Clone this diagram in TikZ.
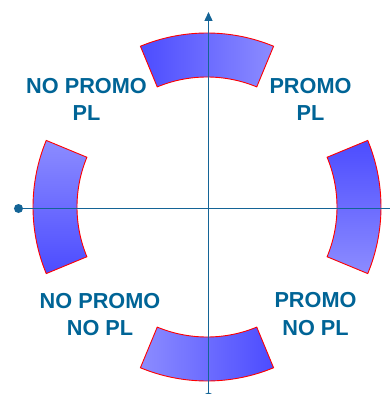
\documentclass[tikz,border=0pt]{standalone}
\usepackage{fontspec}
\setmainfont{Liberation Sans}
\usetikzlibrary{arrows.meta}
\definecolor{txtblue}{RGB}{0,100,150}
\definecolor{axisblue}{RGB}{20,100,150}
\definecolor{darkseg}{RGB}{76,76,255}
\definecolor{lightseg}{RGB}{140,140,255}
\tikzset{
  segment/.style={draw=red, line width=0.9pt},
  axisline/.style={draw=axisblue, line width=1.4pt},
  label/.style={text=txtblue, align=center, inner sep=0pt,
    font=\fontsize{21.7}{27.4}\selectfont\bfseries},
  enddot/.style={circle, fill=axisblue, inner sep=0pt, minimum size=9pt}
}
\begin{document}
\begin{tikzpicture}[x=1pt,y=1pt]
\useasboundingbox (-207,-187) rectangle (182,207);
% sectors
\shade[segment, left color=darkseg, right color=lightseg]
  (67.5:174pt) arc[start angle=67.5, end angle=112.5, radius=174pt]
  -- (112.5:130pt) arc[start angle=112.5, end angle=67.5, radius=130pt] -- cycle;
\shade[segment, top color=lightseg, bottom color=darkseg]
  (157.5:174pt) arc[start angle=157.5, end angle=202.5, radius=174pt]
  -- (202.5:130pt) arc[start angle=202.5, end angle=157.5, radius=130pt] -- cycle;
\shade[segment, left color=lightseg, right color=darkseg]
  (247.5:174pt) arc[start angle=247.5, end angle=292.5, radius=174pt]
  -- (292.5:130pt) arc[start angle=292.5, end angle=247.5, radius=130pt] -- cycle;
\shade[segment, top color=darkseg, bottom color=lightseg]
  (-22.5:174pt) arc[start angle=-22.5, end angle=22.5, radius=174pt]
  -- (22.5:130pt) arc[start angle=22.5, end angle=-22.5, radius=130pt] -- cycle;
% axes
\node[enddot] (ldot) at (-188.5,-1.5) {};
\node[enddot] (bdot) at (1.5,-190) {};
\coordinate (top) at (1.5,195);
\coordinate (right) at (190,-1.5);
\draw[axisline] (ldot.center) -- (right);
\draw[axisline, -{Triangle[length=9pt,width=8pt]}] (bdot.center) -- (top);
% labels
\node[label] (nopl) at (-120.5,107.5) {NO PROMO\\PL};
\node[label] (pl) at (103.5,107.3) {PROMO\\PL};
\node[label] (nonopl) at (-107,-107.7) {NO PROMO\\NO PL};
\node[label] (pnopl) at (108.5,-107) {PROMO\\NO PL};
\end{tikzpicture}
\end{document}
